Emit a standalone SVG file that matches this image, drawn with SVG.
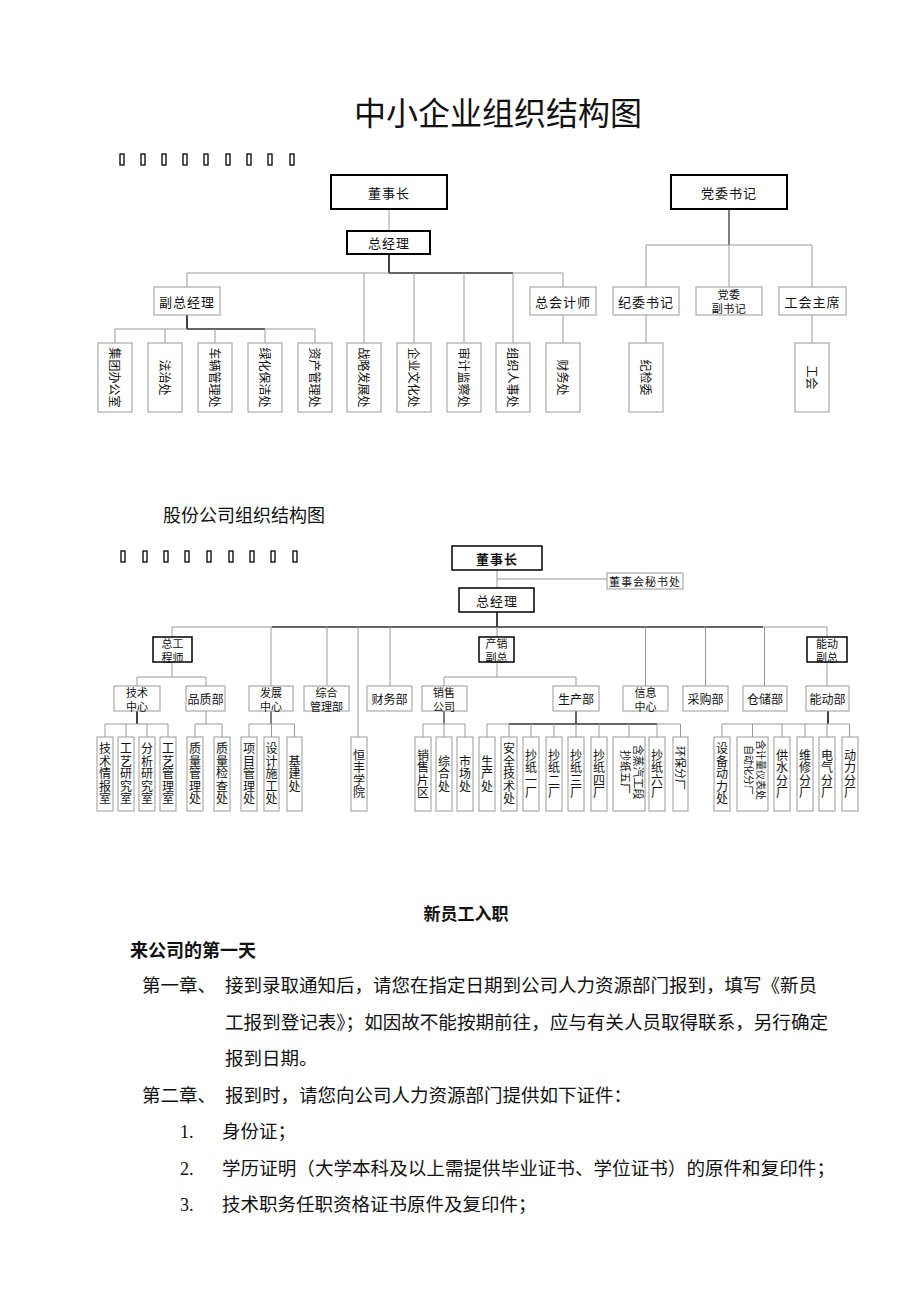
<svg xmlns="http://www.w3.org/2000/svg" width="920" height="1302" viewBox="0 0 920 1302">
<style>
text{font-family:"Noto Sans CJK SC","Noto Sans",sans-serif;fill:#111}
.c{text-anchor:middle;dominant-baseline:central}
.f13{font-size:13px;letter-spacing:1px}
.f12{font-size:12px}
.f11{font-size:11px}
.d{font-size:11px;letter-spacing:0.5px}
.bk{fill:#fff;stroke:#000;stroke-width:2}
.bk1{fill:#fff;stroke:#000;stroke-width:1.5}
.gb{fill:#fff;stroke:#999;stroke-width:1}
.ln{stroke:#999;stroke-width:1;fill:none}
.lk{stroke:#000;stroke-width:1.5;fill:none}
.tofu{fill:none;stroke:#000;stroke-width:1.3}
.v{writing-mode:vertical-rl;text-orientation:upright;text-anchor:middle;font-size:12px;letter-spacing:0.5px}
.r{text-anchor:middle;dominant-baseline:central;font-size:12px}
.body{font-size:18.5px}
.num{font-family:"Liberation Serif",serif;font-size:18px}
</style>
<rect width="920" height="1302" fill="#fff"/>

<text x="498" y="125" text-anchor="middle" style="font-size:32px">中小企业组织结构图</text>

<g id="tofu1">
<rect class="tofu" x="120" y="154" width="4" height="11"/><rect class="tofu" x="141" y="154" width="4" height="11"/><rect class="tofu" x="162" y="154" width="4" height="11"/><rect class="tofu" x="183" y="154" width="4" height="11"/><rect class="tofu" x="204" y="154" width="4" height="11"/><rect class="tofu" x="226" y="154" width="4" height="11"/><rect class="tofu" x="247" y="154" width="4" height="11"/><rect class="tofu" x="268" y="154" width="4" height="11"/><rect class="tofu" x="290" y="154" width="4" height="11"/>
</g>

<!-- Top chart connectors -->
<g id="top-connectors">
<line class="ln" x1="389" y1="209" x2="389" y2="231"/>
<line class="lk" x1="389" y1="254" x2="389" y2="273"/>
<line class="ln" x1="187" y1="273" x2="563" y2="273"/>
<line class="lk" x1="389" y1="273" x2="513" y2="273" style="stroke-width:1"/>
<line class="ln" x1="187" y1="273" x2="187" y2="287"/>
<line class="ln" x1="364" y1="273" x2="364" y2="343"/>
<line class="ln" x1="414" y1="273" x2="414" y2="343"/>
<line class="ln" x1="464" y1="273" x2="464" y2="343"/>
<line class="ln" x1="513" y1="273" x2="513" y2="343"/>
<line class="ln" x1="563" y1="273" x2="563" y2="287"/>
<line class="lk" x1="187" y1="315" x2="187" y2="329"/>
<line class="ln" x1="115" y1="329" x2="315" y2="329"/>
<line class="lk" x1="187" y1="329" x2="265" y2="329" style="stroke-width:1"/>
<line class="ln" x1="115" y1="329" x2="115" y2="343"/>
<line class="ln" x1="165" y1="329" x2="165" y2="343"/>
<line class="ln" x1="215" y1="329" x2="215" y2="343"/>
<line class="ln" x1="265" y1="329" x2="265" y2="343"/>
<line class="ln" x1="315" y1="329" x2="315" y2="343"/>
<line class="ln" x1="563" y1="315" x2="563" y2="343"/>
<line class="lk" x1="729" y1="209" x2="729" y2="245" style="stroke-width:1"/>
<line class="ln" x1="646" y1="245" x2="812" y2="245"/>
<line class="ln" x1="646" y1="245" x2="646" y2="287"/>
<line class="ln" x1="729" y1="245" x2="729" y2="287"/>
<line class="ln" x1="812" y1="245" x2="812" y2="287"/>
<line class="ln" x1="646" y1="315" x2="646" y2="343"/>
<line class="ln" x1="812" y1="315" x2="812" y2="343"/>
</g>

<!-- Top chart nodes -->
<g id="t-dongshizhang"><rect class="bk" x="331" y="175" width="116" height="34"/><text class="c f13" x="389" y="192">董事长</text></g>
<g id="t-zongjingli"><rect class="bk" x="347" y="231" width="83" height="23"/><text class="c f13" x="389" y="242.5">总经理</text></g>
<g id="t-fuzongjingli"><rect class="gb" x="154" y="287" width="66" height="28"/><text class="c f13" x="187" y="301">副总经理</text></g>
<g id="t-zongkuaijishi"><rect class="gb" x="530" y="287" width="66" height="28"/><text class="c f13" x="563" y="301">总会计师</text></g>
<g id="t-dangweishuji"><rect class="bk" x="671" y="175" width="116" height="34"/><text class="c f13" x="729" y="192">党委书记</text></g>
<g id="t-jiweishuji"><rect class="gb" x="613" y="287" width="66" height="28"/><text class="c f13" x="646" y="301">纪委书记</text></g>
<g id="t-dangweifushuji"><rect class="gb" x="696" y="287" width="66" height="28"/><text class="c d" x="729" y="294">党委</text><text class="c d" x="729" y="308">副书记</text></g>
<g id="t-gonghuizhuxi"><rect class="gb" x="779" y="287" width="67" height="28"/><text class="c f13" x="812.5" y="301">工会主席</text></g>

<g id="t-l1"><rect class="gb" x="98" y="343" width="34" height="69"/><text class="r" transform="translate(115,377.5) rotate(90)">集团办公室</text></g>
<g id="t-l2"><rect class="gb" x="148" y="343" width="34" height="69"/><text class="r" transform="translate(165,377.5) rotate(90)">法治处</text></g>
<g id="t-l3"><rect class="gb" x="198" y="343" width="34" height="69"/><text class="r" transform="translate(215,377.5) rotate(90)">车辆管理处</text></g>
<g id="t-l4"><rect class="gb" x="248" y="343" width="34" height="69"/><text class="r" transform="translate(265,377.5) rotate(90)">绿化保洁处</text></g>
<g id="t-l5"><rect class="gb" x="298" y="343" width="34" height="69"/><text class="r" transform="translate(315,377.5) rotate(90)">资产管理处</text></g>
<g id="t-l6"><rect class="gb" x="347" y="343" width="34" height="69"/><text class="r" transform="translate(364,377.5) rotate(90)">战略发展处</text></g>
<g id="t-l7"><rect class="gb" x="397" y="343" width="34" height="69"/><text class="r" transform="translate(414,377.5) rotate(90)">企业文化处</text></g>
<g id="t-l8"><rect class="gb" x="447" y="343" width="34" height="69"/><text class="r" transform="translate(464,377.5) rotate(90)">审计监察处</text></g>
<g id="t-l9"><rect class="gb" x="496" y="343" width="34" height="69"/><text class="r" transform="translate(513,377.5) rotate(90)">组织人事处</text></g>
<g id="t-l10"><rect class="gb" x="546" y="343" width="34" height="69"/><text class="r" transform="translate(563,377.5) rotate(90)">财务处</text></g>
<g id="t-l11"><rect class="gb" x="629" y="343" width="34" height="69"/><text class="r" transform="translate(646,377.5) rotate(90)">纪检委</text></g>
<g id="t-l12"><rect class="gb" x="795" y="343" width="34" height="69"/><text class="r" transform="translate(812,377.5) rotate(90)">工会</text></g>

<text x="163" y="522" style="font-size:18px">股份公司组织结构图</text>

<g id="tofu2">
<rect class="tofu" x="121" y="551" width="4" height="11"/><rect class="tofu" x="143" y="551" width="4" height="11"/><rect class="tofu" x="164" y="551" width="4" height="11"/><rect class="tofu" x="185" y="551" width="4" height="11"/><rect class="tofu" x="207" y="551" width="4" height="11"/><rect class="tofu" x="229" y="551" width="4" height="11"/><rect class="tofu" x="250" y="551" width="4" height="11"/><rect class="tofu" x="271" y="551" width="4" height="11"/><rect class="tofu" x="293" y="551" width="4" height="11"/>
</g>

<!-- Bottom chart connectors -->
<g id="bottom-connectors">
<line class="ln" x1="497" y1="570" x2="497" y2="588"/>
<line class="ln" x1="497" y1="579" x2="607" y2="579"/>
<line class="lk" x1="497" y1="612" x2="497" y2="627"/>
<line class="ln" x1="172" y1="627" x2="827" y2="627"/>
<line class="lk" x1="272" y1="627" x2="763" y2="627" style="stroke-width:1.2"/>
<line class="ln" x1="172" y1="627" x2="172" y2="637"/>
<line class="ln" x1="271" y1="627" x2="271" y2="686"/>
<line class="ln" x1="327" y1="627" x2="327" y2="686"/>
<line class="ln" x1="358" y1="627" x2="358" y2="737"/>
<line class="ln" x1="390" y1="627" x2="390" y2="686"/>
<line class="ln" x1="497" y1="627" x2="497" y2="637"/>
<line class="ln" x1="645.5" y1="627" x2="645.5" y2="686"/>
<line class="ln" x1="705.5" y1="627" x2="705.5" y2="686"/>
<line class="ln" x1="764.5" y1="627" x2="764.5" y2="686"/>
<line class="ln" x1="827" y1="627" x2="827" y2="637"/>
<line class="ln" x1="172" y1="662" x2="172" y2="677"/>
<line class="ln" x1="137" y1="677" x2="206" y2="677"/>
<line class="ln" x1="137" y1="677" x2="137" y2="686"/>
<line class="ln" x1="206" y1="677" x2="206" y2="686"/>
<line class="ln" x1="497" y1="662" x2="497" y2="677"/>
<line class="ln" x1="444" y1="677" x2="576" y2="677"/>
<line class="ln" x1="444" y1="677" x2="444" y2="686"/>
<line class="ln" x1="576" y1="677" x2="576" y2="686"/>
<line class="ln" x1="827" y1="662" x2="827" y2="686"/>
<line class="lk" x1="137" y1="711" x2="137" y2="724"/>
<line class="ln" x1="105" y1="724" x2="168" y2="724"/>
<line class="ln" x1="105" y1="724" x2="105" y2="737"/>
<line class="ln" x1="126" y1="724" x2="126" y2="737"/>
<line class="ln" x1="147" y1="724" x2="147" y2="737"/>
<line class="ln" x1="168" y1="724" x2="168" y2="737"/>
<line class="ln" x1="206" y1="711" x2="206" y2="724"/>
<line class="ln" x1="195" y1="724" x2="222" y2="724"/>
<line class="ln" x1="195" y1="724" x2="195" y2="737"/>
<line class="ln" x1="222" y1="724" x2="222" y2="737"/>
<line class="lk" x1="271" y1="711" x2="271" y2="724" style="stroke-width:1"/>
<line class="ln" x1="249" y1="724" x2="294.5" y2="724"/>
<line class="ln" x1="249" y1="724" x2="249" y2="737"/>
<line class="ln" x1="271.5" y1="724" x2="271.5" y2="737"/>
<line class="ln" x1="294.5" y1="724" x2="294.5" y2="737"/>
<line class="lk" x1="444" y1="711" x2="444" y2="724" style="stroke-width:1"/>
<line class="ln" x1="423" y1="724" x2="465" y2="724"/>
<line class="ln" x1="423" y1="724" x2="423" y2="737"/>
<line class="ln" x1="444" y1="724" x2="444" y2="737"/>
<line class="ln" x1="465" y1="724" x2="465" y2="737"/>
<line class="lk" x1="576" y1="711" x2="576" y2="724" style="stroke-width:1.2"/>
<line class="ln" x1="487" y1="724" x2="680.5" y2="724"/>
<line class="lk" x1="509" y1="724" x2="657" y2="724" style="stroke-width:1"/>
<line class="ln" x1="487" y1="724" x2="487" y2="737"/>
<line class="ln" x1="509" y1="724" x2="509" y2="737"/>
<line class="ln" x1="531" y1="724" x2="531" y2="737"/>
<line class="ln" x1="554" y1="724" x2="554" y2="737"/>
<line class="ln" x1="576" y1="724" x2="576" y2="737"/>
<line class="ln" x1="599" y1="724" x2="599" y2="737"/>
<line class="ln" x1="629" y1="724" x2="629" y2="737"/>
<line class="ln" x1="657" y1="724" x2="657" y2="737"/>
<line class="ln" x1="680.5" y1="724" x2="680.5" y2="737"/>
<line class="lk" x1="828" y1="711" x2="828" y2="724" style="stroke-width:1.5"/>
<line class="ln" x1="722" y1="724" x2="849.5" y2="724"/>
<line class="ln" x1="722" y1="724" x2="722" y2="737"/>
<line class="ln" x1="752.5" y1="724" x2="752.5" y2="737"/>
<line class="ln" x1="782" y1="724" x2="782" y2="737"/>
<line class="ln" x1="805" y1="724" x2="805" y2="737"/>
<line class="ln" x1="827" y1="724" x2="827" y2="737"/>
<line class="ln" x1="849.5" y1="724" x2="849.5" y2="737"/>
</g>

<!-- Bottom chart nodes -->
<g id="b-dongshizhang"><rect class="bk1" x="452" y="546" width="90" height="24"/><text class="c f13" x="497" y="558" font-weight="bold">董事长</text></g>
<g id="b-mishuchu"><rect class="gb" x="607" y="573" width="76" height="16"/><text class="c f11" x="645" y="581" style="letter-spacing:1px">董事会秘书处</text></g>
<g id="b-zongjingli"><rect class="bk1" x="459" y="588" width="75" height="24"/><text class="c f13" x="497" y="600">总经理</text></g>

<g id="b-zonggong"><rect class="bk1" x="153" y="637" width="39" height="25"/><text class="c f11" x="172.5" y="643">总工</text><text class="c f11" x="172.5" y="656.5">程师</text></g>
<g id="b-chanxiao"><rect class="bk1" x="479" y="637" width="35" height="25"/><text class="c f11" x="496.5" y="643">产销</text><text class="c f11" x="496.5" y="656.5">副总</text></g>
<g id="b-nengdongfuzong"><rect class="bk1" x="807" y="637" width="40" height="25"/><text class="c f11" x="827" y="643">能动</text><text class="c f11" x="827" y="656.5">副总</text></g>

<g id="b-jishuzhongxin"><rect class="gb" x="114" y="686" width="46" height="25"/><text class="c f11" x="137" y="692">技术</text><text class="c f11" x="137" y="705.5">中心</text></g>
<g id="b-pinzhi"><rect class="gb" x="186" y="686" width="39" height="25"/><text class="c f12" x="205.5" y="698.5">品质部</text></g>
<g id="b-fazhan"><rect class="gb" x="249" y="686" width="44" height="25"/><text class="c f11" x="271" y="692">发展</text><text class="c f11" x="271" y="705.5">中心</text></g>
<g id="b-zonghe"><rect class="gb" x="304" y="686" width="45" height="25"/><text class="c f11" x="326.5" y="692">综合</text><text class="c f11" x="326.5" y="705.5">管理部</text></g>
<g id="b-caiwu"><rect class="gb" x="367" y="686" width="45" height="25"/><text class="c f12" x="389.5" y="698.5">财务部</text></g>
<g id="b-xiaoshou"><rect class="gb" x="422" y="686" width="45" height="25"/><text class="c f11" x="444" y="692">销售</text><text class="c f11" x="444" y="705.5">公司</text></g>
<g id="b-shengchan"><rect class="gb" x="553" y="686" width="46" height="25"/><text class="c f12" x="576" y="698.5">生产部</text></g>
<g id="b-xinxi"><rect class="gb" x="623" y="686" width="45" height="25"/><text class="c f11" x="645.5" y="692">信息</text><text class="c f11" x="645.5" y="705.5">中心</text></g>
<g id="b-caigou"><rect class="gb" x="683" y="686" width="45" height="25"/><text class="c f12" x="705.5" y="698.5">采购部</text></g>
<g id="b-cangchu"><rect class="gb" x="743" y="686" width="44" height="25"/><text class="c f12" x="765" y="698.5">仓储部</text></g>
<g id="b-nengdong"><rect class="gb" x="806" y="686" width="43" height="25"/><text class="c f12" x="827.5" y="698.5">能动部</text></g>

<g id="b-l1"><rect class="gb" x="97" y="737" width="16" height="74"/><text class="v" x="105" y="774">技术情报室</text></g>
<g id="b-l2"><rect class="gb" x="118" y="737" width="16" height="74"/><text class="v" x="126" y="774">工艺研究室</text></g>
<g id="b-l3"><rect class="gb" x="139" y="737" width="16" height="74"/><text class="v" x="147" y="774">分析研究室</text></g>
<g id="b-l4"><rect class="gb" x="160" y="737" width="16" height="74"/><text class="v" x="168" y="774">工艺管理室</text></g>
<g id="b-l5"><rect class="gb" x="187" y="737" width="16" height="74"/><text class="v" x="195" y="774">质量管理处</text></g>
<g id="b-l6"><rect class="gb" x="214" y="737" width="16" height="74"/><text class="v" x="222" y="774">质量检查处</text></g>
<g id="b-l7"><rect class="gb" x="241" y="737" width="16" height="74"/><text class="v" x="249" y="774">项目管理处</text></g>
<g id="b-l8"><rect class="gb" x="264" y="737" width="15" height="74"/><text class="v" x="271.5" y="774">设计施工处</text></g>
<g id="b-l9"><rect class="gb" x="287" y="737" width="15" height="74"/><text class="v" x="294.5" y="774">基建处</text></g>
<g id="b-l10"><rect class="gb" x="351" y="737" width="16" height="74"/><text class="v" x="359" y="774">恒丰学院</text></g>
<g id="b-l11"><rect class="gb" x="415" y="737" width="16" height="74"/><text class="v" x="423" y="774">销售片区</text></g>
<g id="b-l12"><rect class="gb" x="436" y="737" width="16" height="74"/><text class="v" x="444" y="774">综合处</text></g>
<g id="b-l13"><rect class="gb" x="457" y="737" width="16" height="74"/><text class="v" x="465" y="774">市场处</text></g>
<g id="b-l14"><rect class="gb" x="479" y="737" width="16" height="74"/><text class="v" x="487" y="774">生产处</text></g>
<g id="b-l15"><rect class="gb" x="501" y="737" width="16" height="74"/><text class="v" x="509" y="774">安全技术处</text></g>
<g id="b-l16"><rect class="gb" x="523" y="737" width="16" height="74"/><text class="v" x="531" y="774">抄纸一厂</text></g>
<g id="b-l17"><rect class="gb" x="546" y="737" width="16" height="74"/><text class="v" x="554" y="774">抄纸二厂</text></g>
<g id="b-l18"><rect class="gb" x="568" y="737" width="16" height="74"/><text class="v" x="576" y="774">抄纸三厂</text></g>
<g id="b-l19"><rect class="gb" x="591" y="737" width="16" height="74"/><text class="v" x="599" y="774">抄纸四厂</text></g>
<g id="b-l20"><rect class="gb" x="613" y="737" width="32" height="74"/><text class="r" style="font-size:11px" transform="translate(632,772) rotate(90)"><tspan x="0" y="-6.5">含蒸汽工段</tspan><tspan x="0" y="6.5">抄纸五厂</tspan></text></g>
<g id="b-l21"><rect class="gb" x="649" y="737" width="16" height="74"/><text class="v" x="657" y="774">抄纸六厂</text></g>
<g id="b-l22"><rect class="gb" x="673" y="737" width="15" height="74"/><text class="r" style="font-size:11px" transform="translate(681,768) rotate(90)">环保分厂</text></g>
<g id="b-l23"><rect class="gb" x="714" y="737" width="16" height="74"/><text class="v" x="722" y="774">设备动力处</text></g>
<g id="b-l24"><rect class="gb" x="737" y="737" width="31" height="74"/><text class="r" style="font-size:10px" transform="translate(756,770) rotate(90)"><tspan x="0" y="-6">含计量仪表处</tspan><tspan x="0" y="6">自动化分厂</tspan></text></g>
<g id="b-l25"><rect class="gb" x="774" y="737" width="16" height="74"/><text class="v" x="782" y="774">供水分厂</text></g>
<g id="b-l26"><rect class="gb" x="797" y="737" width="16" height="74"/><text class="v" x="805" y="774">维修分厂</text></g>
<g id="b-l27"><rect class="gb" x="819" y="737" width="16" height="74"/><text class="v" x="827" y="774">电气分厂</text></g>
<g id="b-l28"><rect class="gb" x="842" y="737" width="16" height="74"/><text class="v" x="850" y="774">动力分厂</text></g>

<!-- Text section -->
<g id="text-section">
<text x="466" y="920" text-anchor="middle" style="font-size:17px;font-weight:bold">新员工入职</text>
<text x="130" y="957" style="font-size:18px;font-weight:bold">来公司的第一天</text>
<text class="body" x="142" y="992">第一章、</text>
<text class="body" x="225" y="992" textLength="592" lengthAdjust="spacingAndGlyphs">接到录取通知后，请您在指定日期到公司人力资源部门报到，填写《新员</text>
<text class="body" x="225" y="1029" textLength="603" lengthAdjust="spacingAndGlyphs">工报到登记表》；如因故不能按期前往，应与有关人员取得联系，另行确定</text>
<text class="body" x="225" y="1065">报到日期。</text>
<text class="body" x="142" y="1102">第二章、</text>
<text class="body" x="225" y="1102">报到时，请您向公司人力资源部门提供如下证件：</text>
<text class="num" x="180" y="1138">1.</text>
<text class="body" x="222" y="1138">身份证；</text>
<text class="num" x="180" y="1175">2.</text>
<text class="body" x="222" y="1175" textLength="613" lengthAdjust="spacingAndGlyphs">学历证明（大学本科及以上需提供毕业证书、学位证书）的原件和复印件；</text>
<text class="num" x="180" y="1211">3.</text>
<text class="body" x="222" y="1211">技术职务任职资格证书原件及复印件；</text>
</g>
</svg>
